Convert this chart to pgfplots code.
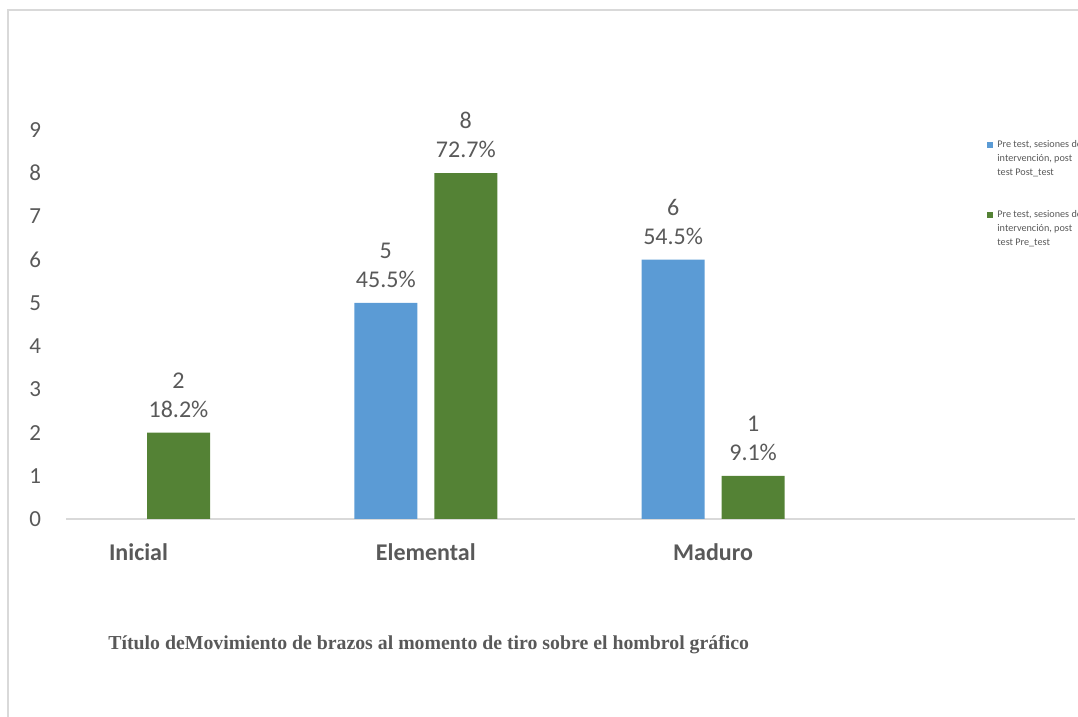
\documentclass[border=0pt]{standalone}
\usepackage{pgfplots}
\pgfplotsset{compat=1.18}
\usepackage{fontspec}
\setmainfont{Carlito}
\newfontfamily\titlefont{Liberation Serif}
\definecolor{cblue}{HTML}{5B9BD5}
\definecolor{cgreen}{HTML}{548235}
\definecolor{ctext}{HTML}{595959}
\definecolor{cline}{HTML}{D9D9D9}
\begin{document}
\begin{tikzpicture}[x=0.5pt,y=0.5pt]
\useasboundingbox (0,0) rectangle (1078,717);
\draw[cline, line width=0.75pt] (8,0) -- (8,707) -- (1078,707);
\begin{axis}[
  at={(69.25pt,99pt)}, anchor=origin,
  scale only axis, width=504.5pt, height=194.5pt,
  xmin=-0.2523, xmax=3.2597, ymin=0, ymax=9,
  axis x line*=bottom, axis y line*=left,
  x axis line style={-, draw=cline, line width=0.75pt},
  y axis line style={draw=none},
  major tick length=0pt,
  xtick={0,1,2}, xticklabels={Inicial,Elemental,Maduro},
  xticklabel style={font=\fontsize{12}{14}\selectfont\bfseries, text=ctext, yshift=-9pt},
  ytick={0,1,...,9},
  yticklabel style={font=\fontsize{11.5}{14}\selectfont, text=ctext, xshift=-9pt},
  /pgf/number format/assume math mode=true,
  ybar, bar width=31.5pt,
  clip=false,
  point meta=explicit symbolic,
  nodes near coords,
  every node near coord/.append style={font=\fontsize{12}{14.5}\selectfont, text=ctext, align=center, anchor=south, yshift=4pt},
]
\addplot[fill=cblue, draw=none, bar shift=-20pt] coordinates {(1,5) [{5\\45.5\%}] (2,6) [{6\\54.5\%}]};
\addplot[fill=cgreen, draw=none, bar shift=20pt] coordinates {(0,2) [{2\\18.2\%}] (1,8) [{8\\72.7\%}] (2,1) [{1\\9.1\%}]};
\end{axis}
\fill[cblue] (987,569) rectangle (993,575);
\node[anchor=north west, inner sep=0pt, align=left, text=ctext, font=\fontsize{5.1}{7}\selectfont] at (997,577) {Pre test, sesiones de\\intervención, post\\test Post\_test};
\fill[cgreen] (987,499) rectangle (993,505);
\node[anchor=north west, inner sep=0pt, align=left, text=ctext, font=\fontsize{5.1}{7}\selectfont] at (997,507) {Pre test, sesiones de\\intervención, post\\test Pre\_test};
\node[anchor=west, inner sep=0pt, text=ctext, font=\titlefont\bfseries\fontsize{9.9}{11}\selectfont] at (108,72) {Título deMovimiento de brazos al momento de tiro sobre el hombrol gráfico};
\end{tikzpicture}
\end{document}
